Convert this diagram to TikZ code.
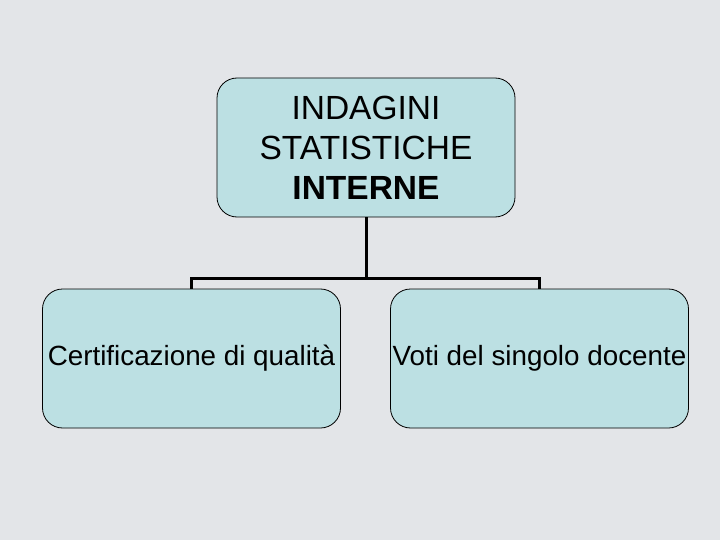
\documentclass[tikz,border=0pt]{standalone}
\usepackage{fontspec}
\setmainfont{Liberation Sans}
\definecolor{marble}{HTML}{E3E5E8}
\definecolor{boxfill}{HTML}{BCE0E3}
\tikzset{
  box/.style={draw=black, line width=0.8pt, fill=boxfill, rounded corners=20pt, minimum width=298pt, minimum height=139pt, inner sep=0pt, align=center},
  conn/.style={draw=black, line width=3pt},
}
\begin{document}
\begin{tikzpicture}[x=1pt,y=-1pt]
\fill[marble] (0,0) rectangle (720,540);
\useasboundingbox (0,0) rectangle (720,540);
\node[box, font=\fontsize{33.5}{40}\selectfont] (top) at (366,147.5) {INDAGINI\\STATISTICHE\\\textbf{INTERNE}};
\node[box, font=\fontsize{27.8}{32}\selectfont] (left) at (191.5,358.5) {Certificazione di qualità};
\node[box, font=\fontsize{27.8}{32}\selectfont] (right) at (539.5,358.5) {Voti del singolo docente};
\coordinate (j) at (366,278);
\draw[conn] (top.south) -- (j);
\draw[conn] (left.north) -- (left.north |- j) -- (right.north |- j) -- (right.north);
\end{tikzpicture}
\end{document}
